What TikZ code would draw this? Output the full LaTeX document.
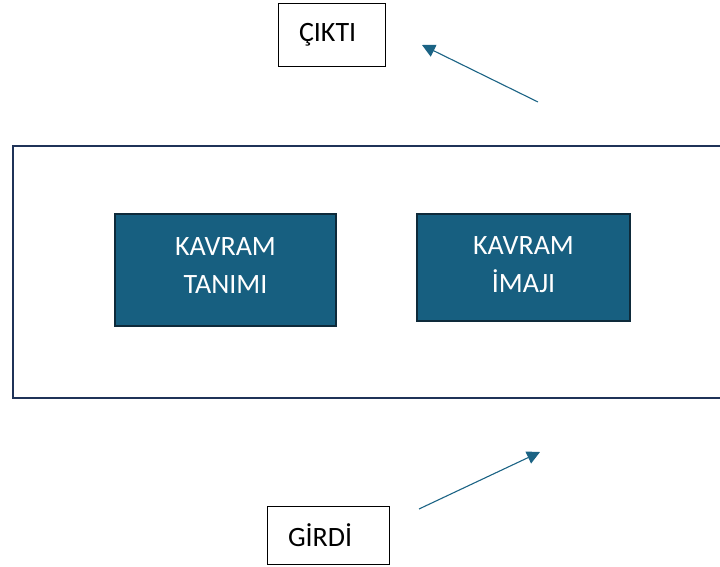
\documentclass[tikz,border=0pt]{standalone}
\usepackage{fontspec}
\setmainfont{Carlito}
\usetikzlibrary{arrows.meta}
\definecolor{conceptfill}{HTML}{175F80}
\definecolor{conceptedge}{HTML}{0E2A3A}
\definecolor{frameedge}{HTML}{1F3358}
\definecolor{flowline}{HTML}{1B6384}
\tikzset{
  x=1pt, y=-1pt,
  conceptbox/.style={draw=conceptedge, line width=1.6pt, fill=conceptfill,
    text=white, align=center, font=\fontsize{28}{38}\selectfont,
    inner sep=0pt},
  iobox/.style={draw=black, line width=0.9pt, fill=white, align=left,
    inner xsep=21pt, inner ysep=0pt, font=\fontsize{28}{30}\selectfont},
  flow/.style={draw=flowline, line width=1.1pt,
    -{Triangle[length=13pt,width=13pt]}}
}
\begin{document}
\begin{tikzpicture}
\useasboundingbox (0,0) rectangle (720,567);
% outer frame, running past the right edge
\node[draw=frameedge, line width=1.8pt, minimum width=714pt, minimum height=252pt,
      inner sep=0pt, anchor=north west] (frame) at (12,145) {};
% the two concept boxes
\node[conceptbox, minimum width=221pt, minimum height=112pt] (tanim) at (225.5,270)
  {KAVRAM\\TANIMI\rule[-8pt]{0pt}{1pt}};
\node[conceptbox, minimum width=213pt, minimum height=107pt] (imaj) at (523.5,267.5)
  {KAVRAM\\İMAJI\rule[-6pt]{0pt}{1pt}};
% output and input labels
\node[iobox, text width=65pt, minimum height=63pt] (cikti) at (331.5,34.5) {ÇIKTI};
\node[iobox, text width=80pt, minimum height=58pt] (girdi) at (328,535) {GİRDİ};
% flow arrows
\coordinate (outtail) at (538,102);
\coordinate (outhead) at (422,45);
\coordinate (intail) at (419,509);
\coordinate (inhead) at (540,452);
\draw[flow] (outtail) -- (outhead);
\draw[flow] (intail) -- (inhead);
\end{tikzpicture}
\end{document}
